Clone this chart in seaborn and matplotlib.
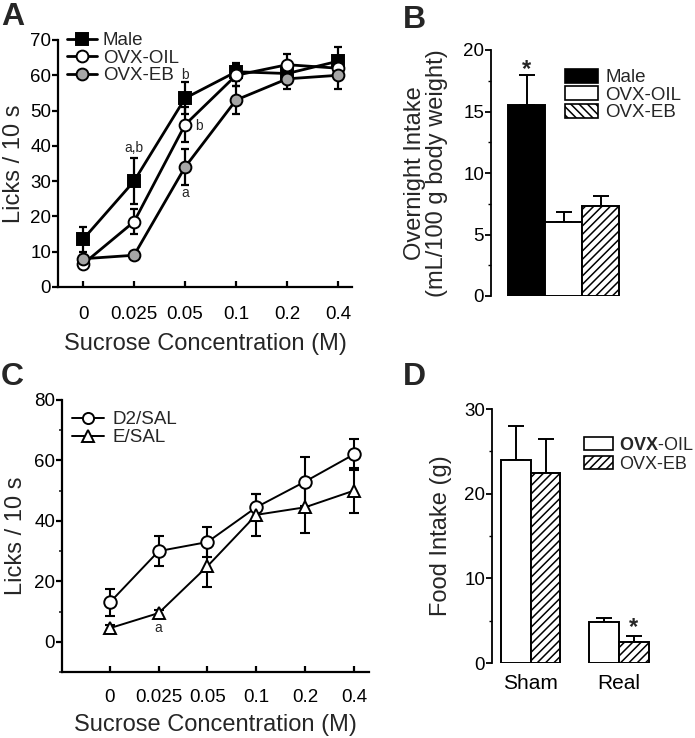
import numpy as np
import pandas as pd
import matplotlib
matplotlib.use("Agg")
import matplotlib.pyplot as plt
import seaborn as sns
from matplotlib.patches import Patch
from matplotlib.lines import Line2D
from matplotlib.ticker import MultipleLocator

sns.set_theme(style="ticks")
plt.rcParams["font.family"] = ["Liberation Sans", "DejaVu Sans"]
plt.rcParams["mathtext.fontset"] = "custom"
plt.rcParams["mathtext.rm"] = "Liberation Sans"
plt.rcParams["mathtext.bf"] = "Liberation Sans:bold"
plt.rcParams["hatch.linewidth"] = 1.1
plt.rcParams["hatch.color"] = "black"

# ---------------- data ----------------
conc_labels = ["0", "0.025", "0.05", "0.1", "0.2", "0.4"]

# Panel A
male_mean = [13.5, 30, 53.5, 61, 60.5, 64]
male_err = [3.5, 6.5, 4.5, 2.5, 2.5, 4]
oil_mean = [6.5, 18.5, 46, 60, 63, 62]
oil_err = [1.0, 3.5, 5, 3, 3, 3]
eb_mean = [8, 9, 34, 53, 59, 60]
eb_err = [1.0, 1.0, 5, 4, 3, 4]

# Panel B
b_groups = ["Male", "OVX-OIL", "OVX-EB"]
b_mean = [15.5, 6.0, 7.3]
b_err = [2.5, 0.8, 0.8]

# Panel C
d2_mean = [13, 30, 33, 44.5, 53, 62]
d2_err = [4.5, 5, 5, 4.5, 8, 5]
e_mean = [4.5, 9.5, 25, 42, 44.5, 50]
e_err = [1.0, 1.0, 7, 7, 8.5, 7.5]

# Panel D
d_conditions = ["Sham", "Real"]
d_groups = ["OVX-OIL", "OVX-EB"]
d_oil_mean = [24, 4.8]
d_oil_err = [4, 0.5]
d_eb_mean = [22.5, 2.5]
d_eb_err = [4, 0.7]

# ---------------- figure ----------------
W, H = 695, 738
fig = plt.figure(figsize=(W / 100, H / 100), dpi=100)


def ax_px(l, b, r, t):
    return fig.add_axes([l / W, 1 - b / H, (r - l) / W, (b - t) / H])


TICK_FS = 13.5
LAB_FS = 17
LEG_FS = 13.5


def style_line_axes(ax, lw=1.6):
    for s in ["top", "right"]:
        ax.spines[s].set_visible(False)
    for s in ["left", "bottom"]:
        ax.spines[s].set_linewidth(lw)
        ax.spines[s].set_color("black")
    ax.tick_params(axis="y", direction="out", length=4, width=lw, pad=1,
                   labelsize=TICK_FS, colors="black")
    ax.tick_params(axis="x", direction="in", length=4.5, width=lw, pad=14,
                   labelsize=TICK_FS, colors="black")


# ---------- Panel A ----------
axA = ax_px(58, 287, 352, 40)
x = np.arange(len(conc_labels))
dfA = pd.DataFrame({"x": x, "Male": male_mean, "OVX-OIL": oil_mean, "OVX-EB": eb_mean})
specs_A = [
    ("Male", male_mean, male_err, "s", "black"),
    ("OVX-OIL", oil_mean, oil_err, "o", "white"),
    ("OVX-EB", eb_mean, eb_err, "o", "#a6a6a6"),
]
handlesA = []
for i, (name, m, e, mk, fc) in enumerate(specs_A):
    axA.errorbar(x, m, yerr=e, fmt="none", ecolor="black", elinewidth=1.6,
                 capsize=3.2, capthick=1.6, zorder=2)
    sns.lineplot(data=dfA, x="x", y=name, ax=axA, color="black", linewidth=2.0,
                 marker=mk, markersize=8.5 if mk == "o" else 8.0,
                 markerfacecolor=fc, markeredgecolor="black", markeredgewidth=1.4,
                 zorder=3 + i)
    handlesA.append(Line2D([], [], color="black", linewidth=2.0, marker=mk,
                           markersize=8.5 if mk == "o" else 8.0,
                           markerfacecolor=fc, markeredgecolor="black",
                           markeredgewidth=1.4, label=name))
axA.set_xlim(-0.49, 5.27)
axA.set_ylim(0, 70)
axA.set_xticks(x)
axA.set_xticklabels(conc_labels)
axA.set_yticks(np.arange(0, 71, 10))
style_line_axes(axA, lw=1.6)
axA.set_xlabel("Sucrose Concentration (M)", fontsize=LAB_FS, labelpad=7)
axA.set_ylabel("Licks / 10 s", fontsize=LAB_FS, labelpad=4)
axA.legend(handles=handlesA, loc="upper left", bbox_to_anchor=(67 / W, 1 - 32 / H),
           bbox_transform=fig.transFigure, frameon=False, fontsize=LEG_FS,
           handlelength=1.6, handletextpad=0.3, labelspacing=0.02,
           borderaxespad=0, borderpad=0)
ann_fs = 10
axA.text(1, 39.5, "a,b", ha="center", va="center", fontsize=ann_fs)
axA.text(2, 60, "b", ha="center", va="center", fontsize=ann_fs)
axA.text(2.27, 45.5, "b", ha="center", va="center", fontsize=ann_fs)
axA.text(2, 26.5, "a", ha="center", va="center", fontsize=ann_fs)

# ---------- Panel B ----------
axB = ax_px(491, 296, 622, 50)
dfB = pd.DataFrame({"group": b_groups, "val": b_mean})
sns.barplot(data=dfB, x="group", y="val", hue="group",
            palette=["black", "white", "white"], edgecolor="black", linewidth=1.4,
            width=1.0, legend=False, ax=axB, zorder=3)
bars_B = list(axB.patches)
bars_B[2].set_hatch("////")
bx = [p.get_x() + p.get_width() / 2 for p in bars_B]
axB.errorbar(bx, b_mean, yerr=[np.zeros(3), b_err], fmt="none", ecolor="black",
             elinewidth=1.4, capsize=5.5, capthick=1.4, zorder=2)
axB.set_xlim(-0.96, 2.58)
axB.set_ylim(0, 20)
axB.yaxis.set_major_locator(MultipleLocator(5))
axB.yaxis.set_minor_locator(MultipleLocator(2.5))
for s in ["top", "right", "bottom"]:
    axB.spines[s].set_visible(False)
axB.spines["left"].set_linewidth(1.3)
axB.spines["left"].set_color("black")
axB.tick_params(axis="y", which="major", direction="out", length=4, width=1.3,
                pad=1, labelsize=TICK_FS, colors="black")
axB.tick_params(axis="y", which="minor", direction="out", length=2.5, width=1.0,
                colors="black")
axB.set_xticks([])
axB.set_xlabel("")
axB.set_ylabel("Overnight Intake\n(mL/100 g body weight)", fontsize=LAB_FS,
               labelpad=11, linespacing=1.0)
axB.text(bx[0], 18.4, "*", ha="center", va="center", fontsize=17, fontweight="bold")
handlesB = [Patch(facecolor="black", edgecolor="black", linewidth=1.2, label="Male"),
            Patch(facecolor="white", edgecolor="black", linewidth=1.2, label="OVX-OIL"),
            Patch(facecolor="white", edgecolor="black", linewidth=1.2, hatch="\\\\\\\\",
                  label="OVX-EB")]
axB.legend(handles=handlesB, loc="upper left", bbox_to_anchor=(565 / W, 1 - 69 / H),
           bbox_transform=fig.transFigure, frameon=False, fontsize=LEG_FS,
           handlelength=1.75, handleheight=0.75, handletextpad=0.4,
           labelspacing=0.0, borderaxespad=0, borderpad=0)

# ---------- Panel C ----------
axC = ax_px(62, 672, 369, 400)
dfC = pd.DataFrame({"x": x, "D2/SAL": d2_mean, "E/SAL": e_mean})
specs_C = [("D2/SAL", d2_mean, d2_err, "o", 9.0), ("E/SAL", e_mean, e_err, "^", 9.0)]
handlesC = []
for i, (name, m, e, mk, ms) in enumerate(specs_C):
    axC.errorbar(x, m, yerr=e, fmt="none", ecolor="black", elinewidth=1.5,
                 capsize=3.8, capthick=1.5, zorder=2)
    sns.lineplot(data=dfC, x="x", y=name, ax=axC, color="black", linewidth=1.4,
                 marker=mk, markersize=ms, markerfacecolor="white",
                 markeredgecolor="black", markeredgewidth=1.4, zorder=3 + i)
    handlesC.append(Line2D([], [], color="black", linewidth=1.4, marker=mk,
                           markersize=ms - 1, markerfacecolor="white",
                           markeredgecolor="black", markeredgewidth=1.4, label=name))
axC.set_xlim(-0.98, 5.31)
axC.set_ylim(-10, 80)
axC.set_xticks(x)
axC.set_xticklabels(conc_labels)
axC.yaxis.set_major_locator(MultipleLocator(20))
axC.yaxis.set_minor_locator(MultipleLocator(10))
style_line_axes(axC, lw=1.6)
axC.tick_params(axis="y", which="minor", direction="out", length=2.5, width=1.2)
axC.tick_params(axis="x", pad=12)
axC.set_yticks([0, 20, 40, 60, 80])
axC.set_xlabel("Sucrose Concentration (M)", fontsize=LAB_FS, labelpad=6)
axC.set_ylabel("Licks / 10 s", fontsize=LAB_FS, labelpad=5)
axC.legend(handles=handlesC, loc="upper left", bbox_to_anchor=(72 / W, 1 - 411 / H),
           bbox_transform=fig.transFigure, frameon=False, fontsize=LEG_FS,
           handlelength=1.7, handletextpad=0.45, labelspacing=0.05,
           borderaxespad=0, borderpad=0)
axC.text(1, 4.6, "a", ha="center", va="center", fontsize=ann_fs)

# ---------- Panel D ----------
axD = ax_px(492, 663, 656, 409)
dfD = pd.DataFrame({
    "cond": d_conditions * 2,
    "grp": [d_groups[0]] * 2 + [d_groups[1]] * 2,
    "val": d_oil_mean + d_eb_mean,
})
sns.barplot(data=dfD, x="cond", y="val", hue="grp", palette=["white", "white"],
            edgecolor="black", linewidth=1.4, width=0.67, gap=0, legend=False,
            ax=axD, zorder=3)
oil_bars = list(axD.containers[0])
eb_bars = list(axD.containers[1])
for p in eb_bars:
    p.set_hatch("////")
ox = [p.get_x() + p.get_width() / 2 for p in oil_bars]
ex = [p.get_x() + p.get_width() / 2 for p in eb_bars]
axD.errorbar(ox, d_oil_mean, yerr=[np.zeros(2), d_oil_err], fmt="none",
             ecolor="black", elinewidth=1.4, capsize=5.5, capthick=1.4, zorder=2)
axD.errorbar(ex, d_eb_mean, yerr=[np.zeros(2), d_eb_err], fmt="none",
             ecolor="black", elinewidth=1.4, capsize=5.5, capthick=1.4, zorder=2)
axD.set_xlim(-0.44, 1.42)
axD.set_ylim(0, 30)
axD.yaxis.set_major_locator(MultipleLocator(10))
axD.yaxis.set_minor_locator(MultipleLocator(5))
for s in ["top", "right", "bottom"]:
    axD.spines[s].set_visible(False)
axD.spines["left"].set_linewidth(1.3)
axD.spines["left"].set_color("black")
axD.tick_params(axis="y", which="major", direction="out", length=4, width=1.3,
                pad=1, labelsize=TICK_FS, colors="black")
axD.tick_params(axis="y", which="minor", direction="out", length=2.5, width=1.0,
                colors="black")
axD.tick_params(axis="x", length=0, pad=8, labelsize=15, colors="black")
axD.set_xlabel("")
axD.set_ylabel("Food Intake (g)", fontsize=LAB_FS, labelpad=9)
axD.text(ex[1], 4.2, "*", ha="center", va="center", fontsize=17, fontweight="bold")
handlesD = [Patch(facecolor="white", edgecolor="black", linewidth=1.2,
                  label=r"$\mathbf{OVX}$-OIL"),
            Patch(facecolor="white", edgecolor="black", linewidth=1.2, hatch="////",
                  label="OVX-EB")]
axD.legend(handles=handlesD, loc="upper left", bbox_to_anchor=(584 / W, 1 - 437 / H),
           bbox_transform=fig.transFigure, frameon=False, fontsize=13,
           handlelength=1.6, handleheight=0.75, handletextpad=0.35,
           labelspacing=0.1, borderaxespad=0, borderpad=0)

# ---------- panel letters ----------
for letter, (px, py) in {"A": (1, 2), "B": (403, 5), "C": (1, 362), "D": (403, 362)}.items():
    fig.text(px / W, 1 - py / H, letter, fontsize=23, fontweight="bold",
             ha="left", va="top")

fig.savefig("out.png", dpi=100)
